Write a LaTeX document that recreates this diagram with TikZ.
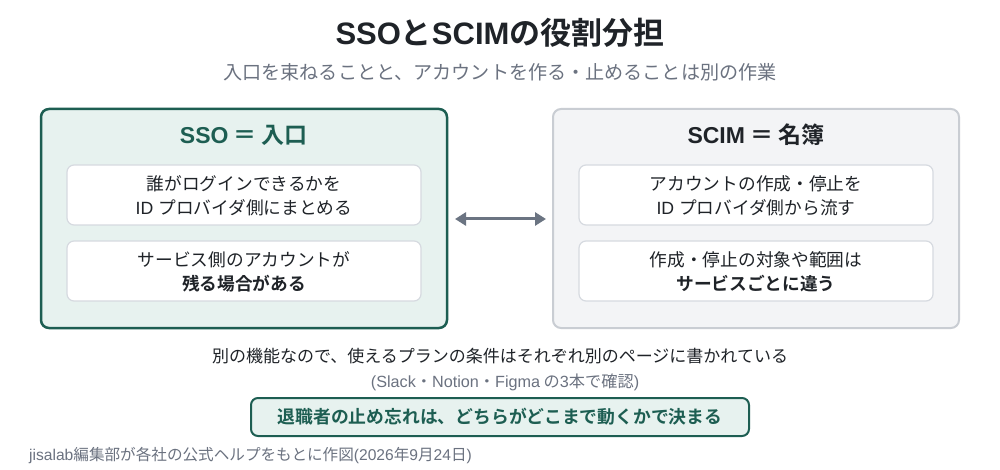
\documentclass[tikz,border=0pt]{standalone}
\usepackage{fontspec}
\setmainfont{Noto Sans CJK JP}[BoldFont={Noto Sans CJK JP Bold}]
\newfontfamily\latf{Liberation Sans}
\newcommand\lat[1]{{\latf #1}}
\usetikzlibrary{arrows.meta}
\definecolor{dgreen}{HTML}{1D5E52}
\definecolor{lgreen}{HTML}{E7F2EF}
\definecolor{lgray}{HTML}{F3F4F6}
\definecolor{bgray}{HTML}{C9CDD3}
\definecolor{igray}{HTML}{D6DAE0}
\definecolor{txt}{HTML}{1F2328}
\definecolor{sub}{HTML}{6B7280}
\definecolor{arr}{HTML}{6B7482}
\tikzset{
  panel/.style={rounded corners=8pt, line width=2.5pt},
  inner/.style={draw=igray, fill=white, rounded corners=7pt, line width=1.2pt},
  boxtext/.style={align=center, font=\fontsize{17.7}{24}\selectfont, text=txt},
  ptitle/.style={font=\fontsize{23}{26}\selectfont\bfseries},
}
\begin{document}
\begin{tikzpicture}[x=1pt,y=-1pt]
\useasboundingbox[fill=white] (0,0) rectangle (1000,470);
% title
\node[font=\fontsize{31}{34}\selectfont\bfseries, text=txt] (title) at (500,33) {\lat{SSO}と\lat{SCIM}の役割分担};
\node[font=\fontsize{19.1}{22}\selectfont, text=sub] (subtitle) at (500,72) {入口を束ねることと、アカウントを作る・止めることは別の作業};
% left panel
\draw[panel, draw=dgreen, fill=lgreen] (41,109) rectangle (447,328);
\node[ptitle, text=dgreen] (ltitle) at (244,135) {\lat{SSO} ＝ 入口};
\draw[inner] (67,165) rectangle (421,225);
\node[boxtext] (l1) at (244,196) {誰がログインできるかを\\\lat{ID }プロバイダ側にまとめる};
\draw[inner] (67,241) rectangle (421,301);
\node[boxtext] (l2) at (244,272) {サービス側のアカウントが\\\textbf{残る場合がある}};
% right panel
\draw[panel, draw=bgray, fill=lgray, line width=2pt] (553,109) rectangle (959,328);
\node[ptitle, text=txt] (rtitle) at (756,135) {\lat{SCIM} ＝ 名簿};
\draw[inner] (579,165) rectangle (933,225);
\node[boxtext] (r1) at (756,196) {アカウントの作成・停止を\\\lat{ID }プロバイダ側から流す};
\draw[inner] (579,241) rectangle (933,301);
\node[boxtext] (r2) at (756,272) {作成・停止の対象や範囲は\\\textbf{サービスごとに違う}};
% arrow
\coordinate (al) at (455,219);
\coordinate (ar) at (546,219);
\draw[arr, line width=3pt, {Triangle[length=11pt,width=13pt]}-{Triangle[length=11pt,width=13pt]}] (al) -- (ar);
% bottom texts
\node[font=\fontsize{17}{20}\selectfont, text=txt] (note) at (500,356) {別の機能なので、使えるプランの条件はそれぞれ別のページに書かれている};
\node[font=\fontsize{16.2}{18}\selectfont, text=sub] (src) at (505,382) {\lat{(Slack}・\lat{Notion}・\lat{Figma} の\lat{3}本で確認\lat{)}};
\node[draw=dgreen, fill=lgreen, line width=2pt, rounded corners=7pt, minimum width=498pt, minimum height=38pt, font=\fontsize{17.8}{20}\selectfont\bfseries, text=dgreen] (concl) at (500,417) {退職者の止め忘れは、どちらがどこまで動くかで決まる};
\node[anchor=west, font=\fontsize{15.6}{16}\selectfont, text=sub, inner sep=0pt] (foot) at (29,456) {\lat{jisalab}編集部が各社の公式ヘルプをもとに作図\lat{(2026}年\lat{9}月\lat{24}日\lat{)}};
\end{tikzpicture}
\end{document}
